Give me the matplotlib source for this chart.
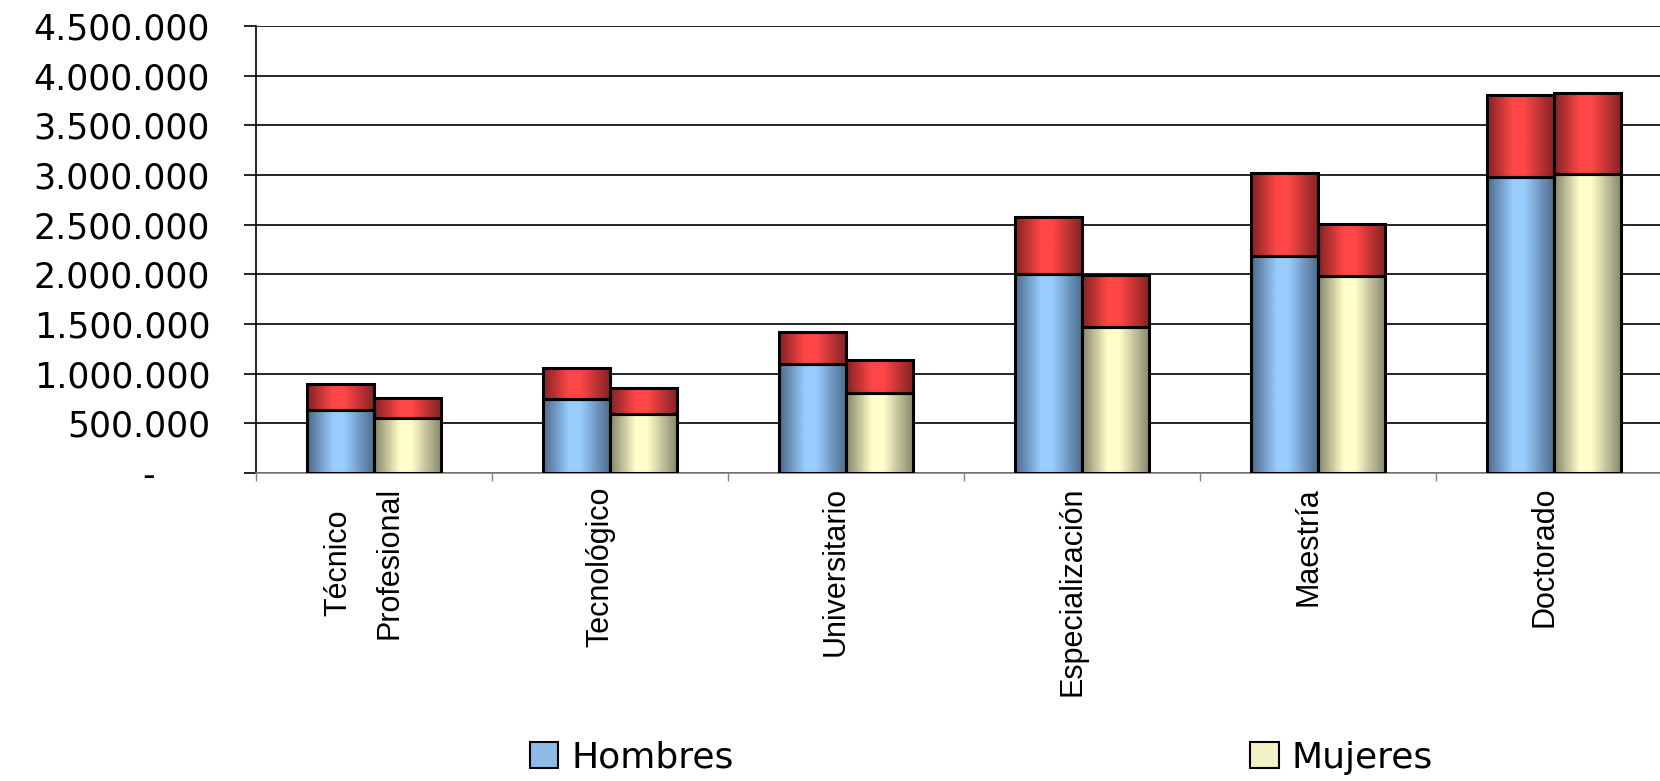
import matplotlib
matplotlib.use("Agg")
import matplotlib.pyplot as plt
import matplotlib.transforms as mtrans
import numpy as np
from matplotlib.colors import LinearSegmentedColormap
from matplotlib.patches import Patch
from matplotlib.ticker import FuncFormatter, FixedLocator

plt.rcParams['font.family'] = ['Liberation Sans', 'DejaVu Sans']

# data
niveles = ["Técnico\nProfesional", "Tecnológico", "Universitario",
           "Especialización", "Maestría", "Doctorado"]
hombres = [633000, 747000, 1095000, 2000000, 2180000, 2983000]
hombres_total = [900000, 1060000, 1415000, 2575000, 3025000, 3805000]
mujeres = [553000, 590000, 808000, 1467000, 1985000, 3010000]
mujeres_total = [757000, 860000, 1138000, 1990000, 2505000, 3830000]

hombres_extra = [t - b for t, b in zip(hombres_total, hombres)]
mujeres_extra = [t - b for t, b in zip(mujeres_total, mujeres)]

# shaded fills (dark edge -> light centre -> dark edge)
def shade(edge, light):
    return LinearSegmentedColormap.from_list(
        "s", [(0, edge), (0.38, light), (0.55, light), (1, edge)])

cm_blue = shade("#4c6b8c", "#99ccff")
cm_cream = shade("#87876a", "#ffffcc")
cm_red = shade("#862222", "#ff4747")

grad = np.linspace(0, 1, 64).reshape(1, -1)


def shaded_bars(ax, x, h, bottom, width, cmap):
    bars = ax.bar(x, h, width, bottom=bottom, facecolor="none",
                  edgecolor="black", linewidth=2.2, zorder=4)
    for b in bars:
        x0, y0 = b.get_x(), b.get_y()
        im = ax.imshow(grad, cmap=cmap, aspect="auto", zorder=3,
                       extent=[x0, x0 + b.get_width(), y0, y0 + b.get_height()],
                       interpolation="bilinear")
        im.set_clip_path(b)
    return bars


fig = plt.figure(figsize=(16.6, 7.81), dpi=100)
ax = fig.add_axes([256 / 1660, 1 - 473 / 781, 1416 / 1660, 447 / 781])

x = np.arange(len(niveles))
w = 0.284
shaded_bars(ax, x - w / 2, hombres, 0, w, cm_blue)
shaded_bars(ax, x - w / 2, hombres_extra, hombres, w, cm_red)
shaded_bars(ax, x + w / 2, mujeres, 0, w, cm_cream)
shaded_bars(ax, x + w / 2, mujeres_extra, mujeres, w, cm_red)

ax.set_xlim(-0.5, len(niveles) - 0.5)
ax.set_ylim(0, 4500000)
ax.set_yticks(np.arange(0, 4500001, 500000))


def fmt(v, pos):
    if v == 0:
        return "-     "
    return f"{v:,.0f}".replace(",", ".")


ax.yaxis.set_major_formatter(FuncFormatter(fmt))
ax.grid(axis="y", color="black", linewidth=1.2)
ax.set_axisbelow(True)

for s in ["top", "right"]:
    ax.spines[s].set_visible(False)
ax.spines["left"].set_linewidth(1.2)
ax.spines["bottom"].set_linewidth(1.2)
ax.spines["bottom"].set_color("#808080")

ax.tick_params(axis="y", length=9, width=1.2, pad=24)
for lab in ax.get_yticklabels():
    lab.set_fontfamily("DejaVu Sans")
    lab.set_fontsize(25)

ax.set_xticks(x)
ax.set_xticklabels(niveles, rotation=90, va="top", ha="center",
                   multialignment="center", fontsize=22, linespacing=1.9)
ax.tick_params(axis="x", which="major", length=0, pad=10)
shift = mtrans.ScaledTranslation(-10 / 100, 0, fig.dpi_scale_trans)
for lab in ax.get_xticklabels():
    lab.set_transform(lab.get_transform() + shift)
ax.xaxis.set_minor_locator(FixedLocator(np.arange(-0.5, len(niveles), 1.0)))
ax.tick_params(axis="x", which="minor", length=6, width=1, color="#808080")

handles = [Patch(facecolor="#8dbbe8", edgecolor="black", linewidth=1.5, label="Hombres"),
           Patch(facecolor="#f2f2c4", edgecolor="black", linewidth=1.5, label="Mujeres")]
fig.legend(handles=handles, loc="center", bbox_to_anchor=(0.591, 0.03), ncol=2,
           frameon=False, prop={"family": "DejaVu Sans", "size": 26},
           handlelength=0.8, handleheight=0.7,
           handletextpad=0.35, columnspacing=14.3)

fig.savefig("out.png", dpi=100)
